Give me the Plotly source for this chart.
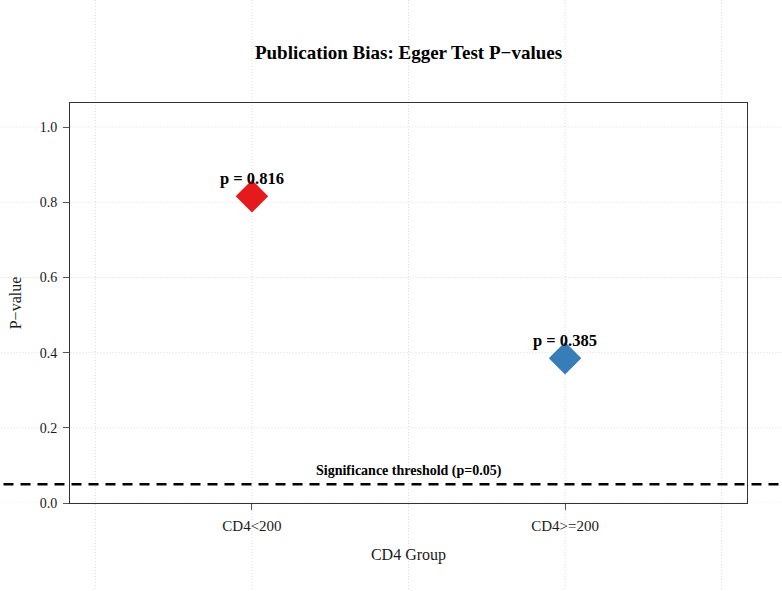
import plotly.graph_objects as go

groups = ["CD4<200", "CD4>=200"]
p_values = [0.816, 0.385]
colors = ["#E41A1C", "#377EB8"]
threshold = 0.05
y_ticks = [0.0, 0.2, 0.4, 0.6, 0.8, 1.0]
x_grid = [-0.5, 0.0, 0.5, 1.0, 1.5]

FONT = "Liberation Serif, Times New Roman, serif"

fig = go.Figure()

shapes = []
# grid lines extending over whole figure
for xv in x_grid:
    shapes.append(dict(type="line", xref="x", yref="paper", x0=xv, x1=xv, y0=-0.5, y1=1.5,
                       line=dict(color="#dcdcdc", width=1, dash="1px,2px"), layer="below"))
for yv in y_ticks:
    shapes.append(dict(type="line", xref="paper", yref="y", x0=-0.5, x1=1.5, y0=yv, y1=yv,
                       line=dict(color="#dcdcdc", width=1, dash="1px,2px"), layer="below"))
# significance threshold
shapes.append(dict(type="line", xref="paper", yref="y", x0=-0.5, x1=1.5, y0=threshold, y1=threshold,
                   line=dict(color="black", width=2.5, dash="10px,7px"), layer="above"))

fig.add_trace(go.Scatter(
    x=groups, y=p_values, mode="markers",
    marker=dict(symbol="diamond", size=25, color=colors, line=dict(width=0)),
    showlegend=False, hoverinfo="x+y", cliponaxis=False,
))

annotations = []
for g, p in zip(groups, p_values):
    annotations.append(dict(x=g, y=p, xref="x", yref="y", text=f"p = {p:.3f}", showarrow=False,
                            yshift=18, font=dict(family=FONT, size=16.5, color="black", weight="bold")))
annotations.append(dict(x=0.5, y=threshold, xref="x", yref="y", text="Significance threshold (p=0.05)",
                        showarrow=False, yshift=13,
                        font=dict(family=FONT, size=14, color="black", weight="bold")))

fig.update_layout(
    width=782, height=591,
    margin=dict(l=70, r=35, t=103, b=88),
    paper_bgcolor="white", plot_bgcolor="white",
    font=dict(family=FONT, color="#1a1a1a", size=15),
    title=dict(text="<b>Publication Bias: Egger Test P\u2212values</b>", x=(70 + 747) / 2 / 782, xanchor="center",
               y=1 - 52 / 591, yanchor="middle", font=dict(family=FONT, size=19, color="black")),
    shapes=shapes,
    annotations=annotations,
    showlegend=False,
)

fig.update_xaxes(
    type="category", categoryorder="array", categoryarray=groups,
    range=[-0.581, 1.581], showgrid=False, zeroline=False,
    showline=True, mirror=True, linecolor="#333", linewidth=1,
    ticks="outside", ticklen=6, tickcolor="#555", tickwidth=1, ticklabelstandoff=3,
    tickfont=dict(family=FONT, size=15, color="#1a1a1a"),
    title=dict(text="CD4 Group", font=dict(family=FONT, size=16, color="#1a1a1a"), standoff=15),
)
fig.update_yaxes(
    range=[0, 1.064], showgrid=False, zeroline=False,
    tickvals=y_ticks, ticktext=[f"{v:.1f}" for v in y_ticks],
    showline=True, mirror=True, linecolor="#333", linewidth=1,
    ticks="outside", ticklen=6, tickcolor="#555", tickwidth=1, ticklabelstandoff=3,
    tickfont=dict(family=FONT, size=14, color="#1a1a1a"),
    title=dict(text="P\u2212value", font=dict(family=FONT, size=16, color="#1a1a1a"), standoff=14),
)

fig.write_html("out.html")
